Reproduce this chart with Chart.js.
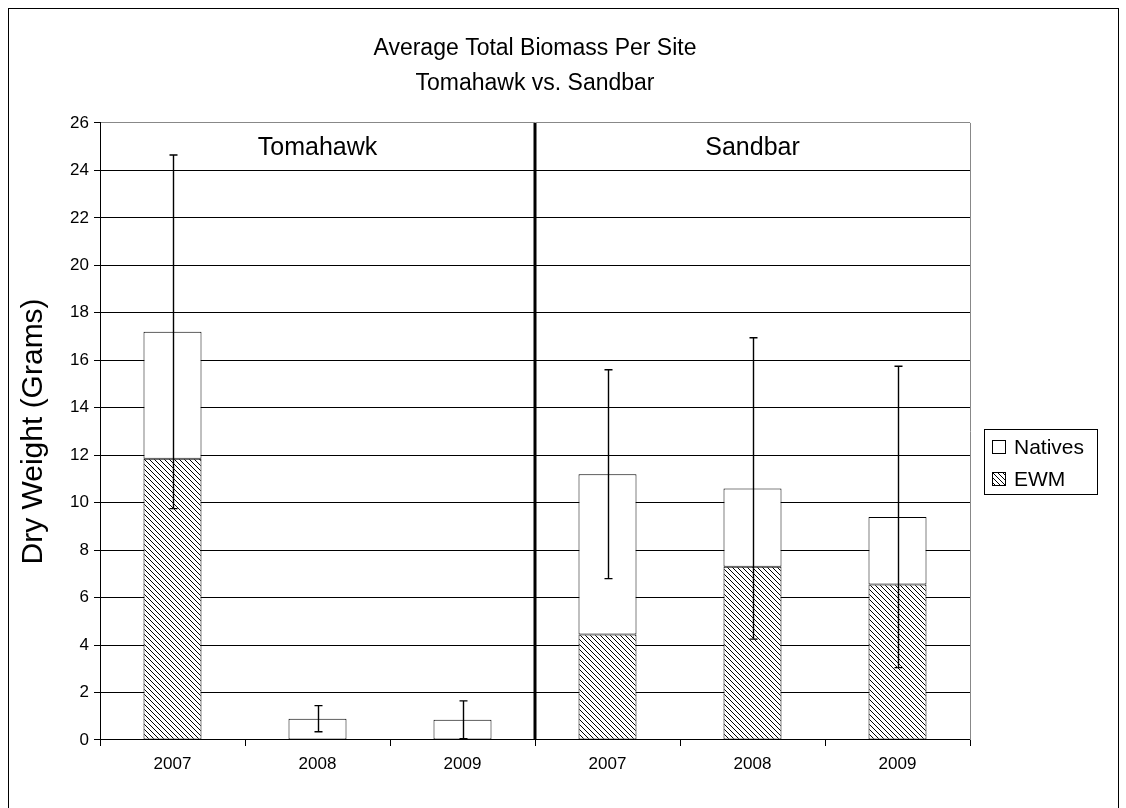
<!DOCTYPE html>
<html>
<head>
<meta charset="utf-8">
<title>Average Total Biomass Per Site</title>
<script src="https://cdn.jsdelivr.net/npm/chart.js@4.4.1/dist/chart.umd.min.js"></script>
<style>
  html, body { margin: 0; padding: 0; background: #fff; }
  canvas { display: block; }
</style>
</head>
<body>
<canvas id="biomass" width="1126" height="808"></canvas>
<script>
// data
const years = ['2007', '2008', '2009', '2007', '2008', '2009'];
const sites = ['Tomahawk', 'Sandbar'];
const ewm = [11.85, 0, 0, 4.45, 7.3, 6.55];
const natives = [5.35, 0.9, 0.85, 6.75, 3.3, 2.85];
const totalError = [7.45, 0.55, 0.8, 4.4, 6.35, 6.35];
const yTicks = [0, 2, 4, 6, 8, 10, 12, 14, 16, 18, 20, 22, 24, 26];

const FONT = '"Liberation Sans", Arial, sans-serif';

function makeHatch() {
    const size = 5;
    const c = document.createElement('canvas');
    c.width = size;
    c.height = size;
    const g = c.getContext('2d');
    g.fillStyle = '#fff';
    g.fillRect(0, 0, size, size);
    g.strokeStyle = '#000';
    g.lineWidth = 1;
    g.beginPath();
    g.moveTo(-1, -1); g.lineTo(size + 1, size + 1);
    g.moveTo(-1, size - 1); g.lineTo(1, size + 1);
    g.moveTo(size - 1, -1); g.lineTo(size + 1, 1);
    g.stroke();
    return c;
}

const ctx = document.getElementById('biomass');
const hatch = ctx.getContext('2d').createPattern(makeHatch(), 'repeat');

// frame, separator, group names, error bars and legend
const extras = {
    id: 'extras',
    beforeDraw(chart) {
        const c = chart.ctx;
        c.save();
        c.fillStyle = '#fff';
        c.fillRect(0, 0, chart.width, chart.height);
        c.strokeStyle = '#000';
        c.lineWidth = 1;
        c.strokeRect(8.5, 8.5, 1110, 830);
        c.restore();
    },
    afterDatasetsDraw(chart) {
        const c = chart.ctx;
        const x = chart.scales.x;
        const y = chart.scales.y;
        const area = chart.chartArea;
        c.save();

        // right border of the plot area
        c.strokeStyle = '#888';
        c.lineWidth = 1;
        c.beginPath();
        c.moveTo(area.right + 0.5, area.top);
        c.lineTo(area.right + 0.5, area.bottom);
        c.stroke();

        // error bars
        c.strokeStyle = '#000';
        c.lineWidth = 1.4;
        for (let i = 0; i < years.length; i++) {
            const total = ewm[i] + natives[i];
            const px = Math.round(x.getPixelForValue(i)) + 0.5;
            const top = y.getPixelForValue(total + totalError[i]);
            const bot = y.getPixelForValue(Math.max(0, total - totalError[i]));
            c.beginPath();
            c.moveTo(px, top); c.lineTo(px, bot);
            c.moveTo(px - 4, top); c.lineTo(px + 4, top);
            c.moveTo(px - 4, bot); c.lineTo(px + 4, bot);
            c.stroke();
        }

        // separator between sites
        const sep = (x.getPixelForValue(2) + x.getPixelForValue(3)) / 2;
        c.lineWidth = 3;
        c.beginPath();
        c.moveTo(sep, area.top);
        c.lineTo(sep, area.bottom);
        c.stroke();

        // site names
        c.fillStyle = '#000';
        c.font = '25px ' + FONT;
        c.textAlign = 'center';
        c.textBaseline = 'middle';
        c.fillText(sites[0], x.getPixelForValue(1), area.top + 25);
        c.fillText(sites[1], x.getPixelForValue(4), area.top + 25);

        // legend (Excel lists the top series first)
        const lx = 984, ly = 429, lw = 113, lh = 65;
        c.lineWidth = 1;
        c.strokeRect(lx + 0.5, ly + 0.5, lw, lh);
        const items = [chart.data.datasets[1], chart.data.datasets[0]];
        c.font = '21px ' + FONT;
        c.textAlign = 'left';
        items.forEach((ds, k) => {
            const cy = ly + 18 + k * 32;
            c.fillStyle = ds.backgroundColor;
            c.fillRect(lx + 8.5, cy - 6.5, 13, 13);
            c.strokeRect(lx + 8.5, cy - 6.5, 13, 13);
            c.fillStyle = '#000';
            c.fillText(ds.label, lx + 30, cy + 1);
        });
        c.restore();
    }
};

new Chart(ctx, {
    type: 'bar',
    data: {
        labels: years,
        datasets: [{
            label: 'EWM',
            data: ewm,
            backgroundColor: hatch,
            borderColor: '#000',
            borderWidth: 1,
            borderSkipped: false,
            barPercentage: 1,
            categoryPercentage: 0.4
        }, {
            label: 'Natives',
            data: natives,
            backgroundColor: '#fff',
            borderColor: '#000',
            borderWidth: 1,
            borderSkipped: false,
            barPercentage: 1,
            categoryPercentage: 0.4
        }]
    },
    options: {
        responsive: false,
        animation: false,
        layout: { padding: { left: 10, right: 156, top: 10, bottom: 18 } },
        plugins: {
            legend: { display: false },
            tooltip: { enabled: false },
            title: {
                display: true,
                fullSize: false, // centre over the plot area like Excel
                text: ['Average Total Biomass Per Site', 'Tomahawk vs. Sandbar'],
                color: '#000',
                font: { family: FONT, size: 23, weight: 'normal', lineHeight: 1.52 },
                padding: { top: 21, bottom: 22 }
            }
        },
        scales: {
            x: {
                stacked: true,
                grid: {
                    display: true,
                    offset: true,
                    drawOnChartArea: false,
                    color: '#000',
                    tickLength: 6
                },
                border: { color: '#000', width: 1 },
                ticks: {
                    color: '#000',
                    font: { family: FONT, size: 17 },
                    padding: 8,
                    maxRotation: 0
                },
                afterFit(scale) { scale.height = 50; }
            },
            y: {
                stacked: true,
                min: 0,
                max: 26,
                afterBuildTicks(scale) {
                    scale.ticks = yTicks.map(v => ({ value: v }));
                },
                grid: {
                    color: c => (c.tick && c.tick.value === 26 ? '#888' : '#000'),
                    tickColor: '#000',
                    tickLength: 6,
                    lineWidth: 1
                },
                border: { color: '#000', width: 1 },
                ticks: {
                    color: '#000',
                    font: { family: FONT, size: 17 },
                    padding: 5
                },
                title: {
                    display: true,
                    text: 'Dry Weight (Grams)',
                    color: '#000',
                    font: { family: FONT, size: 30 },
                    padding: { top: 6, bottom: 0 }
                },
                afterFit(scale) { scale.width = 90; }
            }
        }
    },
    plugins: [extras]
});
</script>
</body>
</html>
